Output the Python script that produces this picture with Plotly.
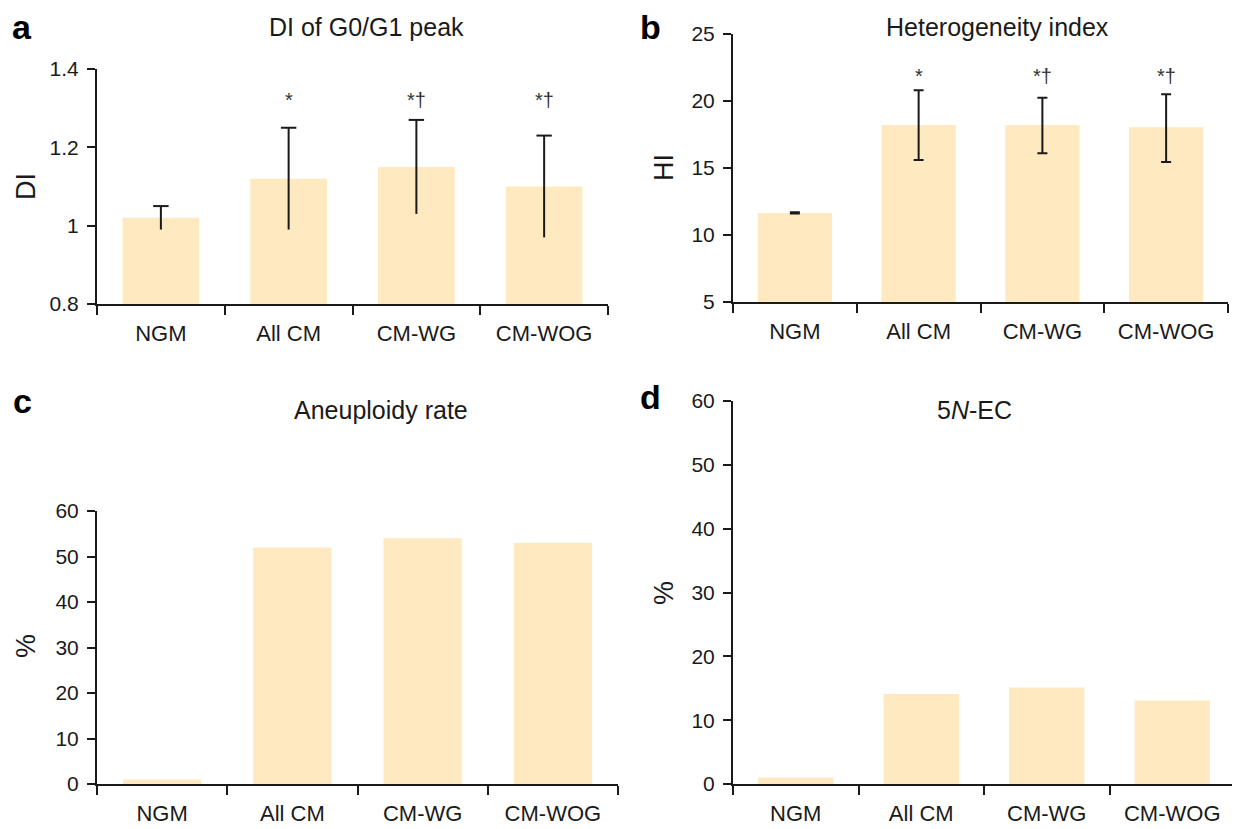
import plotly.graph_objects as go

categories = ["NGM", "All CM", "CM-WG", "CM-WOG"]

# Panel a: DI of G0/G1 peak (mean ± SD)
di_mean = [1.02, 1.12, 1.15, 1.10]
di_sd = [0.03, 0.13, 0.12, 0.13]
di_marks = ["", "*", "*†", "*†"]

# Panel b: Heterogeneity index
hi_mean = [11.65, 18.2, 18.2, 18.05]
hi_err_plus = [0.05, 2.6, 2.05, 2.45]
hi_err_minus = [0.05, 2.6, 2.1, 2.6]
hi_marks = ["", "*", "*†", "*†"]

# Panel c: Aneuploidy rate (%)
aneuploidy = [1, 52, 54, 53]

# Panel d: 5N-EC (%)
five_n_ec = [1, 14.1, 15.1, 13.1]

BAR = "#FEE9C0"
INK = "#1a1a1a"
FONT = "Liberation Sans, Arial, Helvetica, sans-serif"
W, H = 1240, 829
OFF = 8  # page body margin offset

fig = go.Figure()

# a
fig.add_trace(go.Bar(x=categories, y=di_mean, width=0.6, marker=dict(color=BAR, line=dict(width=0)),
                     xaxis="x", yaxis="y", showlegend=False))
di_hi = [m + s for m, s in zip(di_mean, di_sd)]
fig.add_trace(go.Scatter(x=categories, y=di_hi, mode="markers",
                         marker=dict(symbol="line-ew", size=11, line=dict(width=2, color=INK), color=INK),
                         error_y=dict(type="data", symmetric=False, array=[0] * 4,
                                      arrayminus=[2 * s for s in di_sd], width=0, thickness=2, color=INK),
                         xaxis="x", yaxis="y", showlegend=False, hoverinfo="skip"))
# b
fig.add_trace(go.Bar(x=categories, y=hi_mean, width=0.6, marker=dict(color=BAR, line=dict(width=0)),
                     error_y=dict(type="data", symmetric=False, array=hi_err_plus, arrayminus=hi_err_minus,
                                  width=5, thickness=2, color=INK),
                     xaxis="x2", yaxis="y2", showlegend=False))
# c
fig.add_trace(go.Bar(x=categories, y=aneuploidy, width=0.6, marker=dict(color=BAR, line=dict(width=0)),
                     xaxis="x3", yaxis="y3", showlegend=False))
# d
fig.add_trace(go.Bar(x=categories, y=five_n_ec, width=0.6, marker=dict(color=BAR, line=dict(width=0)),
                     xaxis="x4", yaxis="y4", showlegend=False))


def px_dom_x(a, b):
    return [(a - OFF) / W, (b - OFF) / W]


def px_dom_y(top, bottom):
    return [1 - (bottom - OFF) / H, 1 - (top - OFF) / H]


def px(xp):
    return (xp - OFF) / W


def py(yp):
    return 1 - (yp - OFF) / H


xcommon = dict(type="category", range=[-0.5, 3.5], tickson="boundaries", ticks="outside", ticklen=9,
               tickwidth=2, tickcolor=INK, showline=True, linewidth=2, linecolor=INK, showgrid=False,
               zeroline=False, tickfont=dict(size=22, color=INK, family=FONT), ticklabelstandoff=9,
               automargin=False, fixedrange=True)
ycommon = dict(ticks="outside", ticklen=8, tickwidth=2, tickcolor=INK, showline=True, linewidth=2,
               linecolor=INK, showgrid=False, zeroline=False, automargin=False,
               tickfont=dict(size=21, color=INK, family=FONT), ticklabelstandoff=4, fixedrange=True)

fig.update_layout(
    width=W, height=H, margin=dict(l=0, r=0, t=0, b=0, autoexpand=False),
    paper_bgcolor="white", plot_bgcolor="white",
    font=dict(family=FONT, color=INK),
    xaxis=dict(domain=px_dom_x(97, 608), anchor="y", **xcommon),
    yaxis=dict(domain=px_dom_y(69, 304), anchor="x", range=[0.8, 1.4],
               tickvals=[0.8, 1.0, 1.2, 1.4], ticktext=["0.8", "1", "1.2", "1.4"], **ycommon),
    xaxis2=dict(domain=px_dom_x(733, 1228), anchor="y2", **xcommon),
    yaxis2=dict(domain=px_dom_y(34, 302), anchor="x2", range=[5, 25],
                tickvals=[5, 10, 15, 20, 25], **ycommon),
    xaxis3=dict(domain=px_dom_x(97, 618), anchor="y3", **xcommon),
    yaxis3=dict(domain=px_dom_y(511, 784), anchor="x3", range=[0, 60],
                tickvals=[0, 10, 20, 30, 40, 50, 60], **ycommon),
    xaxis4=dict(domain=px_dom_x(733, 1235), anchor="y4", **xcommon),
    yaxis4=dict(domain=px_dom_y(401, 784), anchor="x4", range=[0, 60],
                tickvals=[0, 10, 20, 30, 40, 50, 60], **ycommon),
)

ann = []
# significance marks
for c, m in zip(categories, di_marks):
    if m:
        ann.append(dict(x=c, y=1.32, xref="x", yref="y", text=m, showarrow=False,
                        font=dict(size=20, color="#333"), yanchor="middle"))
for c, m in zip(categories, hi_marks):
    if m:
        ann.append(dict(x=c, y=21.9, xref="x2", yref="y2", text=m, showarrow=False,
                        font=dict(size=20, color="#333"), yanchor="middle"))

# panel titles
titles = [("DI of G0/G1 peak", 366, 27), ("Heterogeneity index", 997, 27),
          ("Aneuploidy rate", 381, 410), ("5<i>N</i>-EC", 974, 410)]
for t, xp, yp in titles:
    ann.append(dict(x=px(xp), y=py(yp), xref="paper", yref="paper", text=t, showarrow=False,
                    font=dict(size=25, color=INK), xanchor="center", yanchor="middle"))

# panel letters
letters = [("a", 22, 27), ("b", 650, 27), ("c", 22, 401), ("d", 650, 397)]
for t, xp, yp in letters:
    ann.append(dict(x=px(xp), y=py(yp), xref="paper", yref="paper", text="<b>" + t + "</b>",
                    showarrow=False, borderpad=0, font=dict(size=34, color="black"),
                    xanchor="center", yanchor="middle"))

# y axis titles
ytitles = [("DI", 26, 187), ("HI", 664, 168), ("%", 26, 646), ("%", 664, 593)]
for t, xp, yp in ytitles:
    ann.append(dict(x=px(xp), y=py(yp), xref="paper", yref="paper", text=t, showarrow=False,
                    textangle=-90, font=dict(size=27, color=INK), xanchor="center", yanchor="middle"))

fig.update_layout(annotations=ann)

fig.write_html("out.html")
